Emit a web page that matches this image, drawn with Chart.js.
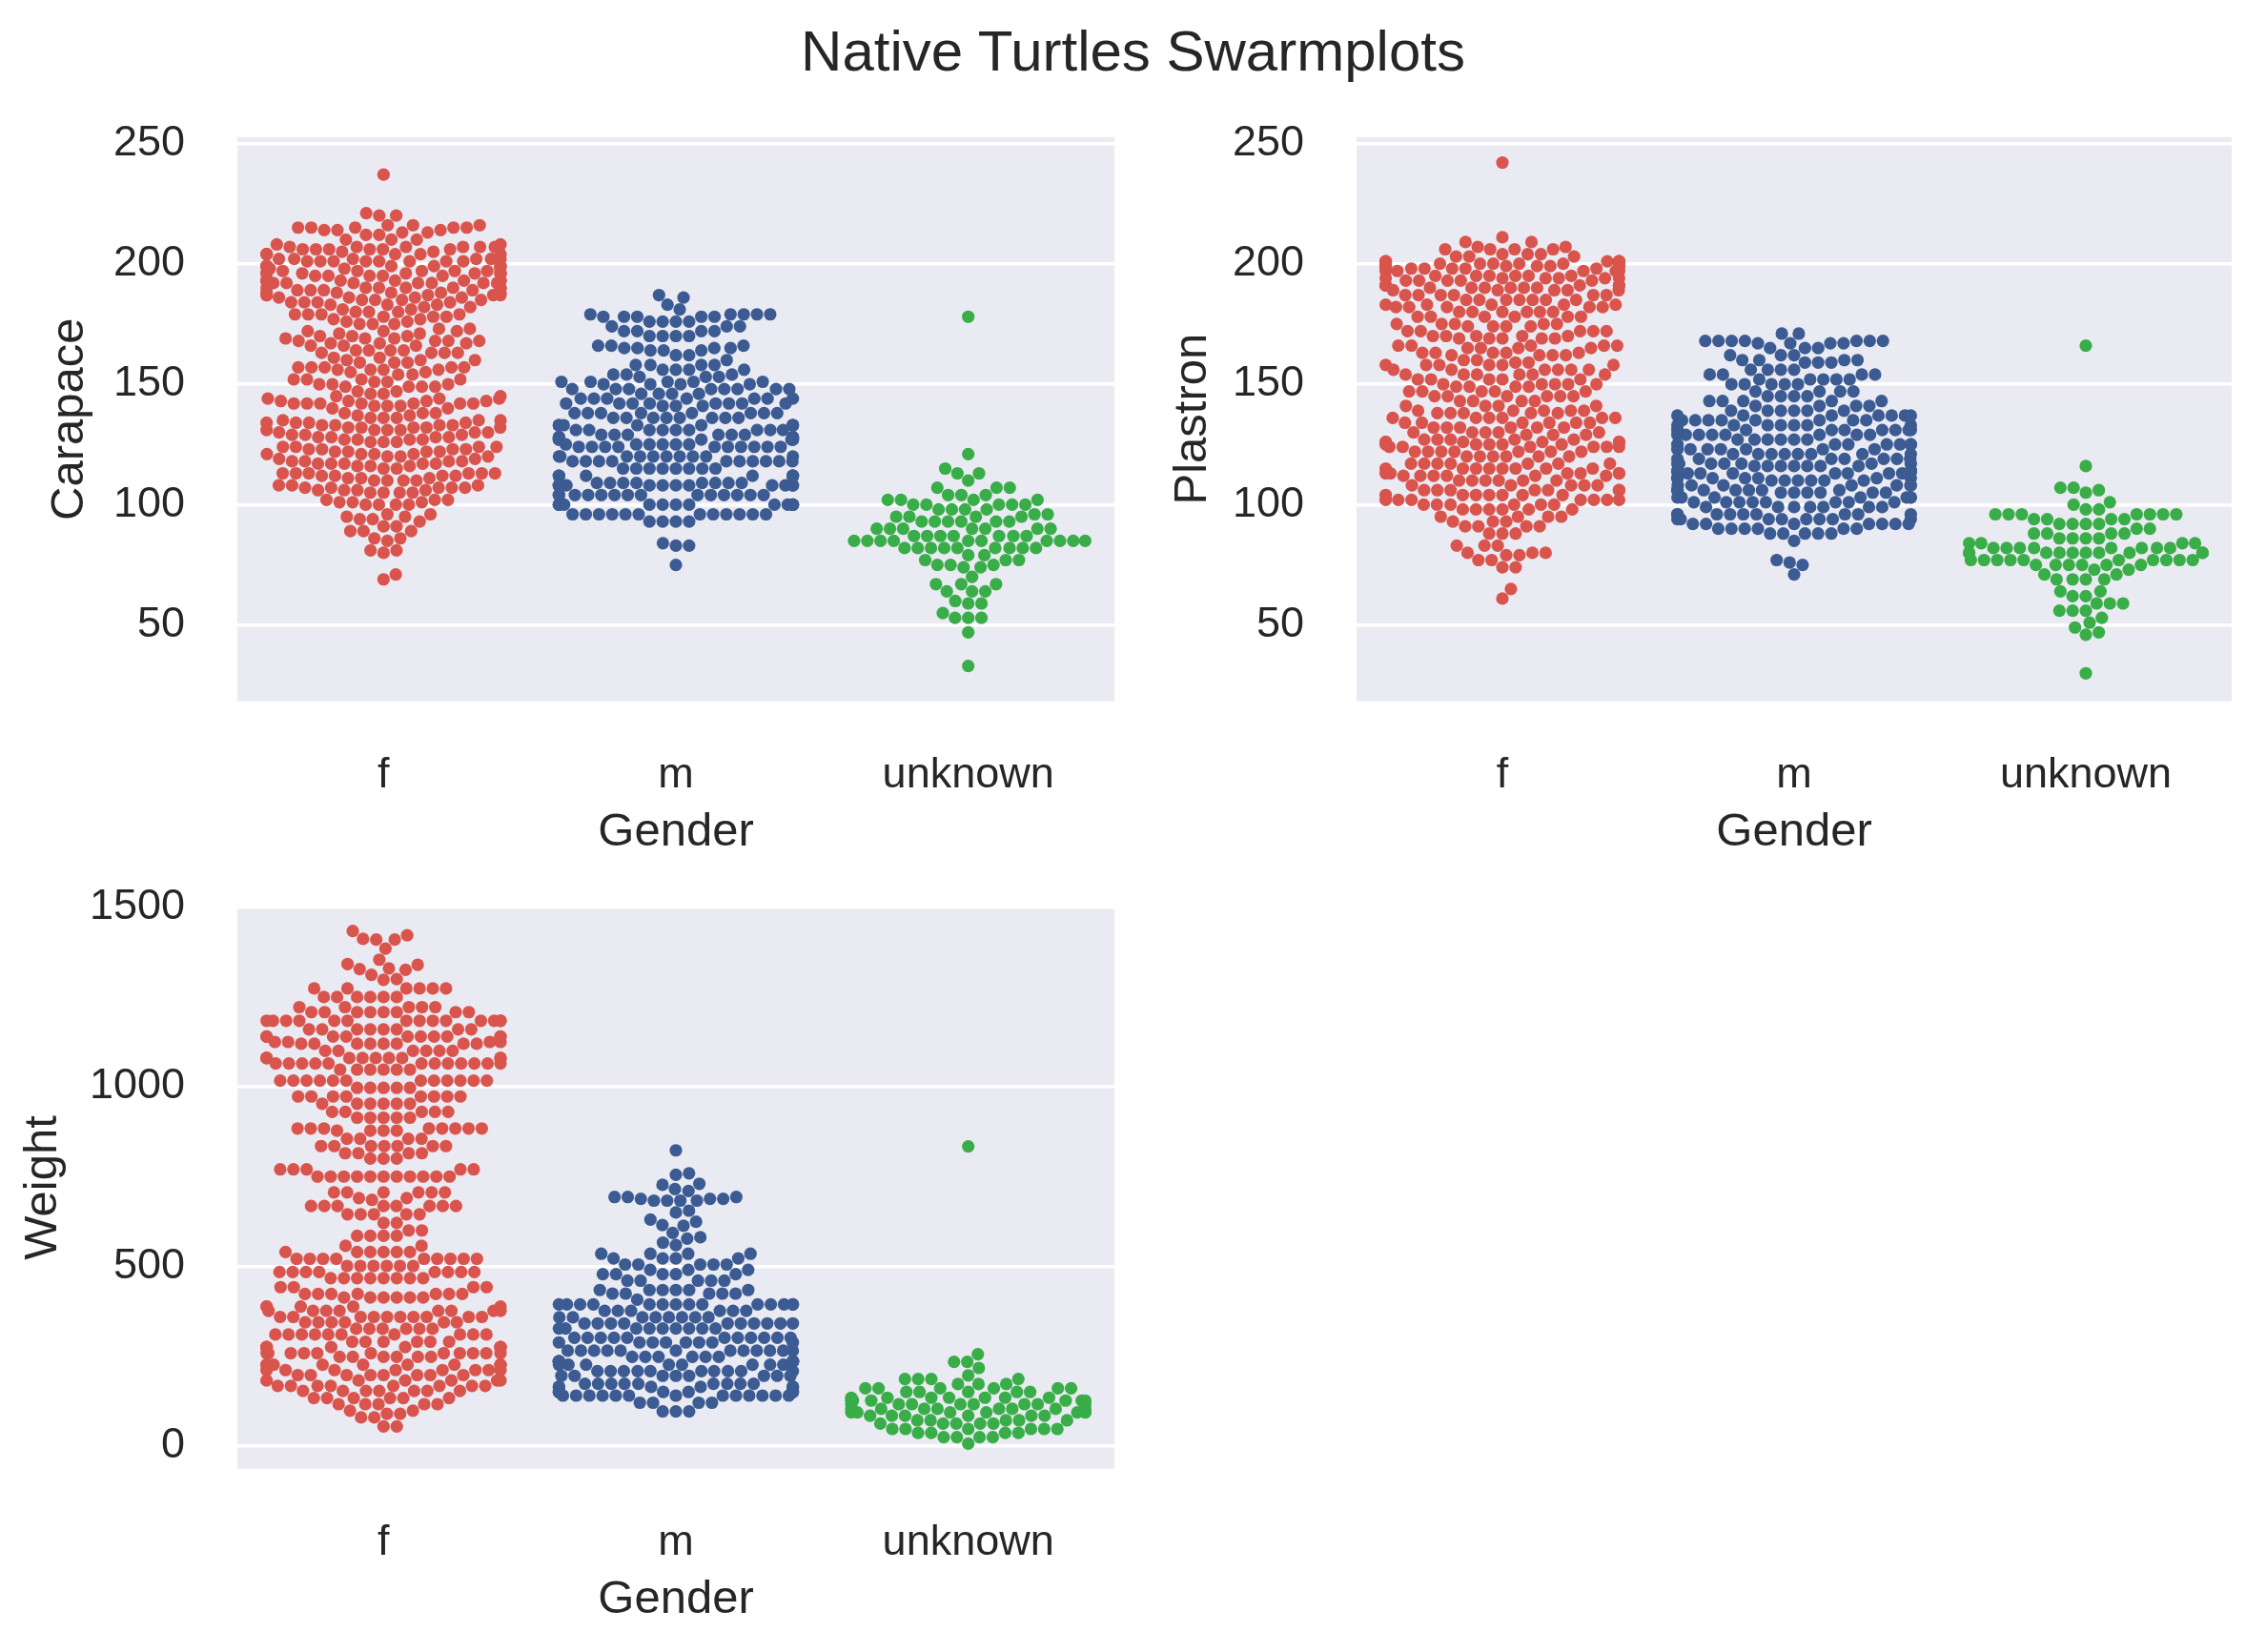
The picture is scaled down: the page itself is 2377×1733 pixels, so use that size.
<!DOCTYPE html>
<html>
<head>
<meta charset="utf-8">
<title>Native Turtles Swarmplots</title>
<script src="https://cdn.jsdelivr.net/npm/chart.js@4.4.1/dist/chart.umd.min.js"></script>
<style>
  html, body { margin: 0; padding: 0; background: #fff; }
  .figure { position: relative; width: 2377px; height: 1733px; overflow: hidden; }
  .figure canvas { position: absolute; left: 0; top: 0; }
  .figure__title {
    position: absolute; left: 0; top: 24px; width: 2377px;
    text-align: center; color: #262626;
    font: 60px/60px "Liberation Sans", Arial, sans-serif;
  }
</style>
</head>
<body>
<div class="figure">
  <div class="figure__title">Native Turtles Swarmplots</div>
  <canvas id="swarm-carapace" width="2377" height="1733"></canvas>
  <canvas id="swarm-plastron" width="2377" height="1733"></canvas>
  <canvas id="swarm-weight" width="2377" height="1733"></canvas>
</div>
<script>
// categories + tick labels
const genders = ['f', 'm', 'unknown'];
const lengthTicks = [50, 100, 150, 200, 250];
const weightTicks = [0, 500, 1000, 1500];

// [value, count] read row by row off the swarms
const carapaceF = [[237,1],[221,1],[220,2],[216,3],[215,5],[214,3],[213,2],[212,2],[210,3],[208,2],[207,6],[206,6],[205,2],[204,6],[202,6],[201,8],[199,7],[198,3],[197,5],[196,8],[195,5],[193,9],[192,7],[190,7],[189,4],[188,5],[187,5],[186,4],[185,4],[184,4],[183,3],[182,2],[181,2],[180,3],[179,4],[178,3],[177,2],[176,2],[175,3],[173,2],[172,3],[171,2],[170,3],[169,3],[168,4],[167,3],[166,3],[164,4],[163,4],[161,2],[160,3],[159,3],[157,5],[156,4],[155,2],[154,2],[152,4],[151,2],[150,3],[149,4],[147,2],[146,2],[145,2],[144,3],[143,4],[142,7],[141,3],[140,2],[138,3],[137,2],[136,3],[135,3],[134,4],[133,4],[132,5],[131,4],[130,3],[129,3],[128,4],[127,4],[126,3],[124,4],[123,4],[122,4],[121,4],[120,3],[119,2],[118,4],[117,5],[116,3],[115,2],[113,6],[112,4],[111,3],[110,4],[108,3],[107,5],[106,4],[105,4],[102,3],[101,3],[100,4],[96,2],[95,2],[94,2],[93,1],[91,2],[89,3],[86,2],[85,1],[81,2],[80,1],[71,1],[69,1]];
const carapaceM = [[187,1],[186,1],[183,1],[181,1],[179,5],[178,5],[176,4],[174,3],[172,4],[170,4],[166,3],[165,4],[164,3],[162,2],[160,1],[158,4],[156,4],[154,3],[153,3],[151,5],[150,4],[148,8],[146,4],[144,7],[142,8],[141,3],[138,8],[136,8],[133,9],[131,9],[129,6],[128,6],[127,6],[125,6],[124,10],[120,10],[118,10],[115,8],[112,9],[109,8],[108,12],[104,14],[100,14],[96,12],[93,4],[84,1],[83,2],[75,1]];
const carapaceU = [[178,1],[121,1],[115,1],[113,2],[110,1],[107,3],[104,3],[102,4],[100,5],[98,4],[96,2],[95,4],[93,6],[90,7],[87,7],[85,10],[82,9],[79,2],[77,3],[75,3],[74,2],[70,1],[67,3],[64,3],[60,1],[59,2],[55,1],[53,3],[47,1],[33,1]];

const plastronF = [[242,1],[211,1],[209,2],[207,2],[206,4],[204,3],[203,3],[201,6],[200,7],[199,7],[198,6],[197,5],[195,6],[194,6],[193,5],[191,6],[190,6],[189,5],[187,6],[185,7],[183,5],[182,5],[180,6],[178,6],[175,5],[174,4],[172,5],[170,5],[169,5],[166,5],[165,4],[163,5],[162,4],[160,2],[159,2],[158,6],[156,6],[154,6],[152,5],[150,5],[149,4],[147,5],[145,6],[143,4],[141,4],[139,5],[138,5],[136,6],[134,6],[132,6],[130,5],[129,3],[127,5],[126,6],[125,5],[124,6],[122,7],[120,6],[117,7],[115,8],[113,6],[112,6],[110,6],[108,5],[106,7],[104,7],[102,7],[100,6],[98,6],[95,4],[93,3],[91,4],[88,3],[83,3],[80,3],[79,2],[77,2],[74,2],[65,1],[61,1]];
const plastronM = [[171,2],[168,7],[167,4],[165,3],[162,3],[160,4],[159,3],[156,4],[154,4],[152,5],[150,5],[147,4],[145,4],[143,5],[141,4],[139,6],[137,7],[135,8],[133,7],[131,8],[129,8],[127,6],[125,7],[123,7],[121,8],[119,7],[117,7],[116,7],[114,7],[113,7],[111,8],[110,6],[108,7],[106,7],[105,6],[103,7],[101,8],[99,7],[96,9],[94,8],[92,7],[90,6],[88,5],[85,1],[77,1],[76,1],[75,1],[71,1]];
const plastronU = [[166,1],[116,1],[107,2],[106,1],[105,1],[101,1],[100,1],[98,2],[96,7],[94,4],[92,4],[90,2],[88,4],[86,4],[84,4],[82,8],[80,10],[77,10],[75,6],[73,2],[71,2],[69,4],[64,2],[62,2],[59,3],[56,3],[53,1],[51,1],[49,1],[47,1],[46,1],[30,1]];

const weightF = [[1434,1],[1422,1],[1412,1],[1410,2],[1385,1],[1354,1],[1342,1],[1340,1],[1330,1],[1328,1],[1326,1],[1312,1],[1300,1],[1298,1],[1274,6],[1250,6],[1222,5],[1208,8],[1184,14],[1160,8],[1140,10],[1125,4],[1120,8],[1100,6],[1080,10],[1065,12],[1048,6],[1017,12],[997,5],[973,8],[953,6],[930,5],[914,5],[884,8],[878,4],[855,4],[835,7],[815,4],[800,3],[770,5],[750,11],[706,6],[690,2],[685,1],[668,8],[645,5],[621,2],[600,2],[585,4],[557,2],[540,6],[521,9],[501,6],[484,8],[467,8],[442,4],[423,7],[413,6],[388,5],[376,8],[359,10],[344,6],[326,6],[310,10],[290,6],[275,8],[258,11],[248,6],[226,10],[211,8],[197,8],[182,6],[167,8],[153,7],[133,6],[116,5],[98,2],[89,2],[79,2],[54,2]];
const weightM = [[823,1],[759,1],[755,1],[730,1],[727,1],[715,1],[710,1],[693,3],[688,3],[683,4],[655,1],[650,1],[630,1],[624,1],[615,1],[613,1],[593,1],[581,1],[577,1],[566,1],[559,1],[535,4],[522,4],[505,5],[490,3],[478,5],[460,5],[434,6],[424,5],[407,1],[394,14],[376,6],[358,8],[341,10],[327,9],[301,11],[288,8],[265,12],[248,6],[235,10],[226,8],[208,10],[195,8],[173,9],[164,8],[150,6],[140,13],[120,4],[96,3]];
const weightU = [[834,1],[255,1],[234,2],[217,1],[196,1],[186,4],[172,3],[160,6],[150,5],[134,7],[126,6],[116,8],[103,8],[93,7],[84,6],[71,5],[62,5],[47,6],[36,4],[24,4],[6,1]];


/*
* =============================================
* SETTINGS
* ============================================= */
const PAGE_W = 2377,
  PAGE_H = 1733,
  FONT = '"Liberation Sans", Arial, sans-serif',
  TEXT = '#262626',
  PLOT_BG = '#eaeaf2',
  colors = ['#d9544d', '#3b5b92', '#39ad48'],
  R = 6.6,
  X_AXIS_H = 167;

const plotBg = {
  id: 'plotBg',
  beforeDraw(chart) {
    const {ctx, chartArea: a} = chart;
    ctx.save();
    ctx.fillStyle = PLOT_BG;
    ctx.fillRect(a.left, a.top, a.right - a.left, a.bottom - a.top);
    ctx.restore();
  }
};

const expand = (pairs) => {
  const out = [];
  pairs.forEach(([v, n]) => {
    for (let i = 0; i < n; i++) out.push(v);
  });
  return out;
};

/**
 * beeswarm in pixel space, lowest value first, then clip to the gutters
 */
const swarm = (yPix, half) => {
  const d = R * 2,
    order = yPix.map((y, k) => k).sort((a, b) => yPix[b] - yPix[a]),
    placed = [],
    offs = new Array(yPix.length).fill(0);

  order.forEach((k) => {
    const y = yPix[k],
      near = [];

    for (let j = placed.length - 1; j >= 0; j--) {
      if (Math.abs(y - placed[j].y) < d) near.push(placed[j]);
      else break;
    }

    let cands = [0];
    near.forEach((q) => {
      const dy = y - q.y,
        dx = Math.sqrt(Math.max(d * d - dy * dy, 0)) * 1.05;
      cands.push(q.x + dx, q.x - dx);
    });
    cands = cands
      .map((c, n) => [c, n])
      .sort((a, b) => Math.abs(a[0]) - Math.abs(b[0]) || a[1] - b[1])
      .map((c) => c[0]);

    let x = cands[cands.length - 1];
    for (const c of cands) {
      if (near.every((q) => (c - q.x) ** 2 + (y - q.y) ** 2 >= d * d * 0.999)) {
        x = c;
        break;
      }
    }
    placed.push({x, y});
    offs[k] = Math.max(-half, Math.min(half, x));
  });

  return offs;
};


/*
* =============================================
* CHARTS
* ============================================= */
const initSwarm = (canvasId, panel, groups, yLabel, yTicks) => {
  const datasets = groups.map((pairs, i) => ({
    label: genders[i],
    data: expand(pairs).map((v) => ({x: i, y: v})),
    backgroundColor: colors[i],
    pointRadius: R,
    pointHoverRadius: R,
    pointBorderWidth: 0,
    borderWidth: 0
  }));

  const chart = new Chart(document.getElementById(canvasId), {
    type: 'scatter',
    data: {datasets},
    options: {
      responsive: false,
      animation: false,
      events: [],
      layout: {
        padding: {
          left: panel.axisLeft,
          top: panel.top,
          right: PAGE_W - panel.right,
          bottom: PAGE_H - panel.bottom - X_AXIS_H
        }
      },
      plugins: {
        legend: {display: false},
        tooltip: {enabled: false}
      },
      scales: {
        x: {
          type: 'linear',
          min: -0.5,
          max: 2.5,
          afterBuildTicks: (s) => { s.ticks = genders.map((g, i) => ({value: i})); },
          afterFit: (s) => { s.height = X_AXIS_H; },
          ticks: {
            callback: (v) => genders[v],
            color: TEXT,
            font: {family: FONT, size: 45},
            padding: 51,
            maxRotation: 0,
            autoSkip: false
          },
          grid: {display: false, drawTicks: false},
          border: {display: false},
          title: {
            display: true,
            text: 'Gender',
            color: TEXT,
            font: {family: FONT, size: 49},
            padding: {top: 0, bottom: 0}
          }
        },
        y: {
          min: panel.yMin,
          max: panel.yMax,
          afterBuildTicks: (s) => { s.ticks = yTicks.map((v) => ({value: v})); },
          afterFit: (s) => { s.width = panel.left - panel.axisLeft; },
          ticks: {
            callback: (v) => String(v),
            color: TEXT,
            font: {family: FONT, size: 45},
            padding: 55
          },
          grid: {color: '#ffffff', lineWidth: 3.5, drawTicks: false},
          border: {display: false},
          title: {
            display: true,
            text: yLabel,
            color: TEXT,
            font: {family: FONT, size: 49},
            padding: {top: panel.titlePad, bottom: 0}
          }
        }
      }
    },
    plugins: [plotBg]
  });

  // swarm offsets need the laid-out pixel scales
  const xs = chart.scales.x,
    ys = chart.scales.y,
    catPx = xs.getPixelForValue(1) - xs.getPixelForValue(0);

  chart.data.datasets.forEach((ds, i) => {
    const offs = swarm(ds.data.map((p) => ys.getPixelForValue(p.y)), catPx * 0.4);
    ds.data = ds.data.map((p, k) => ({x: i + offs[k] / catPx, y: p.y}));
  });
  chart.update('none');
};

const initCharts = () => {
  initSwarm('swarm-carapace',
    {left: 249, right: 1169, top: 143.75, bottom: 735.6, axisLeft: 0, titlePad: 43.6, yMin: 18.4, yMax: 252.6},
    [carapaceF, carapaceM, carapaceU], 'Carapace', lengthTicks);

  initSwarm('swarm-plastron',
    {left: 1423, right: 2341, top: 143.75, bottom: 735.6, axisLeft: 1178, titlePad: 43.6, yMin: 18.4, yMax: 252.6},
    [plastronF, plastronM, plastronU], 'Plastron', lengthTicks);

  initSwarm('swarm-weight',
    {left: 249, right: 1169, top: 951.4, bottom: 1540.7, axisLeft: 0, titlePad: 15.6, yMin: -63.7, yMax: 1501},
    [weightF, weightM, weightU], 'Weight', weightTicks);
};

initCharts();
</script>
</body>
</html>
